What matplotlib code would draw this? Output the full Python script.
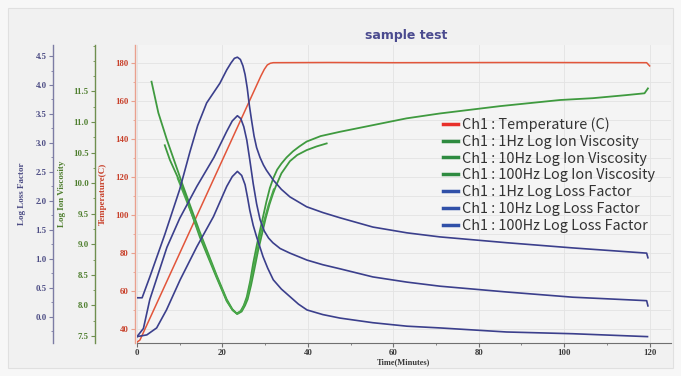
import matplotlib
matplotlib.use('Agg')
import matplotlib.pyplot as plt
from matplotlib.lines import Line2D
from matplotlib.patches import Rectangle
from matplotlib.ticker import MultipleLocator
from matplotlib.font_manager import FontProperties

# Temperature (C)
temp_t = [0, 0.7, 29.0, 29.8, 30.5, 31.2, 31.9, 45, 60, 90, 119.3, 120]
temp_v = [33.0, 34.2, 173.0, 176.5, 178.8, 179.7, 180.0, 180.1, 180.0, 180.1, 180.0, 178.3]

# Log Ion Viscosity
visc1_t = [3.4, 5.0, 7.0, 10.8, 14.7, 18.6, 21.0, 22.3, 23.3, 24.2, 25.0, 25.7, 26.5, 27.2,
           28.0, 28.8, 29.6, 30.3, 31.1, 31.9, 32.8, 33.8, 35.0, 36.5, 38.0, 39.7, 43.0,
           47.5, 55.3, 63.1, 70.9, 85.0, 99.0, 106.7, 114.5, 118.8, 119.6]
visc1_v = [11.66, 11.15, 10.71, 9.95, 9.20, 8.50, 8.10, 7.94, 7.87, 7.90, 8.00, 8.14, 8.40,
           8.69, 8.97, 9.23, 9.48, 9.70, 9.92, 10.08, 10.22, 10.32, 10.42, 10.52, 10.60,
           10.68, 10.77, 10.84, 10.95, 11.06, 11.14, 11.26, 11.36, 11.39, 11.44, 11.47, 11.55]
visc10_t = [6.5, 7.7, 10.8, 14.7, 18.6, 21.0, 22.4, 23.5, 24.5, 25.3, 25.9, 26.7, 27.5,
            28.3, 29.2, 30.1, 31.0, 31.8, 32.5, 33.8, 35.8, 37.5, 39.7, 42.0, 44.4]
visc10_v = [10.62, 10.38, 9.90, 9.12, 8.46, 8.07, 7.92, 7.86, 7.90, 8.00, 8.10, 8.33, 8.60,
            8.88, 9.15, 9.42, 9.65, 9.82, 9.95, 10.16, 10.36, 10.46, 10.54, 10.60, 10.65]
visc100_t = [9.5, 14.7, 18.6, 21.0, 22.3, 23.4, 24.6, 25.8, 27.4, 29.0, 30.8, 32.0]
visc100_v = [10.08, 9.16, 8.48, 8.08, 7.93, 7.86, 7.93, 8.12, 8.65, 9.20, 9.65, 9.90]

# Log Loss Factor
lf1_t = [0, 1.2, 3.0, 6.5, 10.0, 12.4, 14.2, 16.3, 19.4, 21.0, 22.0, 22.8, 23.5, 24.2,
         24.8, 25.3, 25.8, 26.3, 26.8, 27.4, 28.0, 28.8, 29.6, 30.3, 31.9, 33.8, 35.8,
         39.7, 43.5, 47.5, 55.2, 63.2, 70.9, 86.5, 102.0, 119.3, 119.6]
lf1_v = [0.33, 0.33, 0.69, 1.42, 2.20, 2.85, 3.30, 3.69, 4.03, 4.26, 4.38, 4.46, 4.48, 4.44,
         4.33, 4.18, 3.95, 3.65, 3.40, 3.12, 2.92, 2.75, 2.62, 2.53, 2.36, 2.20, 2.07,
         1.90, 1.80, 1.71, 1.55, 1.45, 1.38, 1.28, 1.19, 1.10, 1.02]
lf10_t = [0, 1.5, 3.0, 5.0, 7.0, 10.0, 14.0, 18.0, 21.0, 22.3, 23.5, 24.3, 25.0, 25.7,
          26.4, 27.2, 28.0, 28.8, 29.8, 30.8, 31.8, 33.5, 35.8, 39.8, 43.5, 47.5, 55.2,
          63.2, 70.9, 86.5, 102.0, 119.3, 119.6]
lf10_v = [-0.34, -0.20, 0.30, 0.75, 1.20, 1.70, 2.25, 2.75, 3.20, 3.38, 3.47, 3.42, 3.28,
          3.05, 2.71, 2.30, 1.95, 1.68, 1.48, 1.36, 1.28, 1.18, 1.10, 0.98, 0.90, 0.83,
          0.69, 0.60, 0.53, 0.43, 0.34, 0.28, 0.19]
lf100_t = [0, 2.3, 4.6, 6.9, 10.1, 14.0, 17.9, 21.0, 22.3, 23.5, 24.5, 25.3, 25.9, 26.4,
           27.2, 28.0, 28.8, 29.5, 30.6, 31.9, 33.8, 35.8, 37.8, 39.8, 43.5, 47.5, 55.2,
           63.2, 70.9, 86.5, 102.0, 119.5]
lf100_v = [-0.34, -0.31, -0.19, 0.12, 0.64, 1.21, 1.73, 2.25, 2.42, 2.51, 2.44, 2.28, 2.05,
           1.84, 1.58, 1.38, 1.20, 1.04, 0.84, 0.64, 0.48, 0.35, 0.22, 0.12, 0.04, -0.02,
           -0.10, -0.16, -0.19, -0.26, -0.29, -0.34]

legend_labels = [
    'Ch1 : Temperature (C)',
    'Ch1 : 1Hz Log Ion Viscosity',
    'Ch1 : 10Hz Log Ion Viscosity',
    'Ch1 : 100Hz Log Ion Viscosity',
    'Ch1 : 1Hz Log Loss Factor',
    'Ch1 : 10Hz Log Loss Factor',
    'Ch1 : 100Hz Log Loss Factor',
]

RED = '#e2553a'
GREEN = '#3f9a3f'
BLUE = '#3b3f8c'

W, H = 681, 376
fig = plt.figure(figsize=(W / 100, H / 100), dpi=100)
fig.patch.set_facecolor('#f7f7f7')
fig.patches.append(Rectangle((8 / W, 8 / H), 665 / W, 360 / H, transform=fig.transFigure,
                             facecolor='#f1f1f1', edgecolor='#e0e0e0', lw=0.8, zorder=-5))

# axe principal = temperature
ax = fig.add_axes([137 / W, 1 - 343 / H, 534 / W, 298 / H])
ax.set_facecolor('#f4f4f4')
ax_v = ax.twinx()
ax_lf = ax.twinx()

tick_font = dict(family='Liberation Serif', weight='bold', size=6.3)


def style_axis(a, offset, spine_col, text_col, label, pad):
    """Met l'axe y a gauche avec sa couleur"""
    a.yaxis.set_ticks_position('left')
    a.yaxis.set_label_position('left')
    for s in ['top', 'right', 'bottom']:
        a.spines[s].set_visible(False)
    a.spines['left'].set_visible(True)
    a.spines['left'].set_position(('axes', offset))
    a.spines['left'].set_color(spine_col)
    a.spines['left'].set_linewidth(1.0)
    a.tick_params(axis='y', which='both', colors=spine_col, direction='out', pad=1.5)
    a.tick_params(axis='y', which='major', length=3)
    a.tick_params(axis='y', which='minor', length=1.5)
    for lab in a.get_yticklabels():
        lab.set_color(text_col)
        lab.set_fontproperties(FontProperties(**tick_font))
    a.set_ylabel(label, color=text_col, family='Liberation Serif', weight='bold',
                 size=6.5, labelpad=pad)


ax.set_xlim(0, 125)
ax.set_ylim(32.6, 189.3)
ax.yaxis.set_minor_locator(MultipleLocator(10))
ax.set_yticks([40, 60, 80, 100, 120, 140, 160, 180])

ax_v.set_ylim(7.385, 12.26)
ax_v.set_yticks([7.5, 8.0, 8.5, 9.0, 9.5, 10.0, 10.5, 11.0, 11.5])
ax_v.yaxis.set_minor_locator(MultipleLocator(0.25))
ax_v.set_yticklabels(['7.5', '8.0', '8.5', '9.0', '9.5', '10.0', '10.5', '11.0', '11.5'])

ax_lf.set_ylim(-0.45, 4.69)
ax_lf.set_yticks([0.0, 0.5, 1.0, 1.5, 2.0, 2.5, 3.0, 3.5, 4.0, 4.5])
ax_lf.yaxis.set_minor_locator(MultipleLocator(0.25))
ax_lf.set_yticklabels(['0.0', '0.5', '1.0', '1.5', '2.0', '2.5', '3.0', '3.5', '4.0', '4.5'])

style_axis(ax, -0.004, '#e9a08e', '#c8402a', 'Temperature(C)', 6)
style_axis(ax_v, -42 / 534, '#6f8f4f', '#4f7f2f', 'Log Ion Viscosity', 5)
style_axis(ax_lf, -84 / 534, '#7c7ca4', '#4c4c84', 'Log Loss Factor', 7)

# axe x
ax.spines['bottom'].set_visible(True)
ax.spines['bottom'].set_color('#707070')
ax.xaxis.set_minor_locator(MultipleLocator(10))
ax.set_xticks([0, 20, 40, 60, 80, 100, 120])
ax.tick_params(axis='x', which='both', colors='#707070', direction='out', pad=1.5)
ax.tick_params(axis='x', which='major', length=3)
ax.tick_params(axis='x', which='minor', length=1.5)
for lab in ax.get_xticklabels():
    lab.set_color('#3a3a3a')
    lab.set_fontproperties(FontProperties(**tick_font))
ax.set_xlabel('Time(Minutes)', family='Liberation Serif', weight='bold', size=6,
              color='#3a3a3a', labelpad=1)

# grille legere
ax.grid(True, which='both', axis='y', color='#e3e3e3', lw=0.6)
ax.grid(True, which='major', axis='x', color='#e3e3e3', lw=0.6)
ax.set_axisbelow(True)

# courbes
ax.plot(temp_t, temp_v, color=RED, lw=1.1, zorder=3)
ax_v.plot(visc1_t, visc1_v, color=GREEN, lw=1.3)
ax_v.plot(visc10_t, visc10_v, color=GREEN, lw=1.3)
ax_v.plot(visc100_t, visc100_v, color='#4aa84a', lw=1.2)
ax_lf.plot(lf1_t, lf1_v, color=BLUE, lw=1.2)
ax_lf.plot(lf10_t, lf10_v, color=BLUE, lw=1.2)
ax_lf.plot(lf100_t, lf100_v, color=BLUE, lw=1.2)

# legende
leg_cols = ['#e8302a', '#2e8b40', '#2e8b40', '#2e8b40', '#3050a8', '#3050a8', '#3050a8']
handles = [Line2D([], [], color=c, lw=2.5) for c in leg_cols]
leg = fig.legend(handles, legend_labels, loc='upper left',
                 bbox_to_anchor=(443 / W, 1 - 117 / H),
                 frameon=False, handlelength=1.06, handletextpad=0.28, labelspacing=0.2,
                 borderpad=0, borderaxespad=0,
                 prop=dict(family=['Noto Sans CJK JP', 'DejaVu Sans'], size=10.4))
for txt in leg.get_texts():
    txt.set_color('#333333')

fig.text(406 / W, 1 - 35 / H, 'sample test', ha='center', va='center', weight='bold',
         size=9, color='#4b4b8f')

fig.savefig('out.png', dpi=100, facecolor=fig.get_facecolor())
